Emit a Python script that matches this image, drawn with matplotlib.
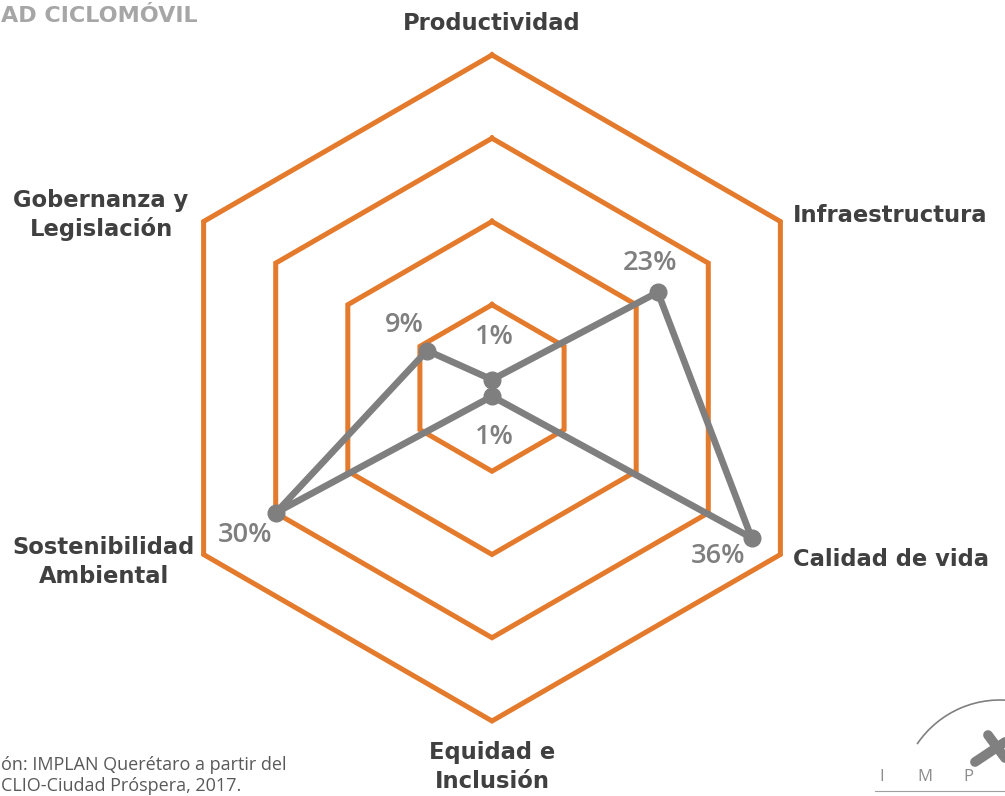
import numpy as np
import matplotlib.pyplot as plt
import matplotlib.patches as mpatches

categories = ['Productividad', 'Infraestructura', 'Calidad de vida',
              'Equidad e\nInclusión', 'Sostenibilidad\nAmbiental', 'Gobernanza y\nLegislación']
values = [1, 23, 36, 1, 30, 9]
value_labels = ['1%', '23%', '36%', '1%', '30%', '9%']
rings = [10, 20, 30, 40]

ORANGE = '#E47A2C'
GRAY = '#7F7F7F'
DARK = '#404040'

W, H = 1005, 796
fig = plt.figure(figsize=(W / 100, H / 100), dpi=100)
fig.patch.set_facecolor('white')

def fx(px):
    return px / W

def fy(py):
    return 1 - py / H

cx, cy, rad = 492, 388, 333
ax = fig.add_axes((fx(cx - rad), fy(cy + rad), 2 * rad / W, 2 * rad / H), projection='polar')
ax.set_theta_zero_location('N')
ax.set_theta_direction(-1)
ax.set_ylim(0, 40)
ax.grid(False)
ax.set_xticks([])
ax.set_yticks([])
ax.spines['polar'].set_visible(False)
ax.patch.set_alpha(0)

angles = np.linspace(0, 2 * np.pi, len(categories), endpoint=False)
closed = np.concatenate([angles, angles[:1]])

for r in rings:
    ax.plot(closed, [r] * len(closed), color=ORANGE, lw=3.6, clip_on=False,
            solid_joinstyle='miter', zorder=1)

vals = values + values[:1]
ax.plot(closed, vals, color=GRAY, lw=4.8, clip_on=False, zorder=3,
        solid_joinstyle='round')
ax.plot(angles, values, 'o', color=GRAY, ms=12, clip_on=False, zorder=4)

# value labels (pixel positions of the label centres)
label_pos = [(494, 337), (650, 263), (718, 556), (494, 437), (245, 535), (404, 325)]
for (px, py), txt in zip(label_pos, value_labels):
    fig.text(fx(px), fy(py), txt, ha='center', va='center', fontsize=19.5,
             color=GRAY, family='Open Sans', fontweight='semibold')

# category labels
cat_pos = [(492, 24, 'center'), (793, 215, 'left'), (793, 560, 'left'),
           (492, 767, 'center'), (104, 562, 'center'), (101, 215, 'center')]
for (px, py, ha), txt in zip(cat_pos, categories):
    fig.text(fx(px), fy(py), txt, ha=ha, va='center', fontsize=16.3,
             fontweight='bold', color=DARK, family='DejaVu Sans', linespacing=1.3)

# decorations: cropped title, source note, logo
fig.text(fx(1), fy(16), 'AD CICLOMÓVIL', ha='left', va='center', fontsize=16,
         fontweight='bold', color='#A6A6A6', family='DejaVu Sans')
fig.text(fx(1), fy(765), 'ón: IMPLAN Querétaro a partir del', ha='left', va='center',
         fontsize=13, color='#595959', family='Open Sans')
fig.text(fx(1), fy(786), 'CLIO-Ciudad Próspera, 2017.', ha='left', va='center',
         fontsize=13, color='#595959', family='Open Sans')

logo = fig.add_axes((fx(860), 0, fx(145), fy(680)))
logo.set_xlim(860, 1005)
logo.set_ylim(796, 680)
logo.axis('off')
logo.add_patch(mpatches.Arc((1000, 800), 200, 200, theta1=214, theta2=280,
                            color='#808080', lw=1.2))
logo.plot([988, 1005], [735, 758], color='#808080', lw=7, solid_capstyle='round')
logo.plot([975, 1005], [762, 742], color='#808080', lw=7, solid_capstyle='round')
for x, ch in zip([882, 925, 968], 'IMP'):
    logo.text(x, 777, ch, ha='center', va='center', fontsize=12, color='#8C8C8C',
              family='Open Sans')
logo.plot([875, 1005], [791, 791], color='#A0A0A0', lw=0.8)

fig.savefig('out.png', dpi=100)
